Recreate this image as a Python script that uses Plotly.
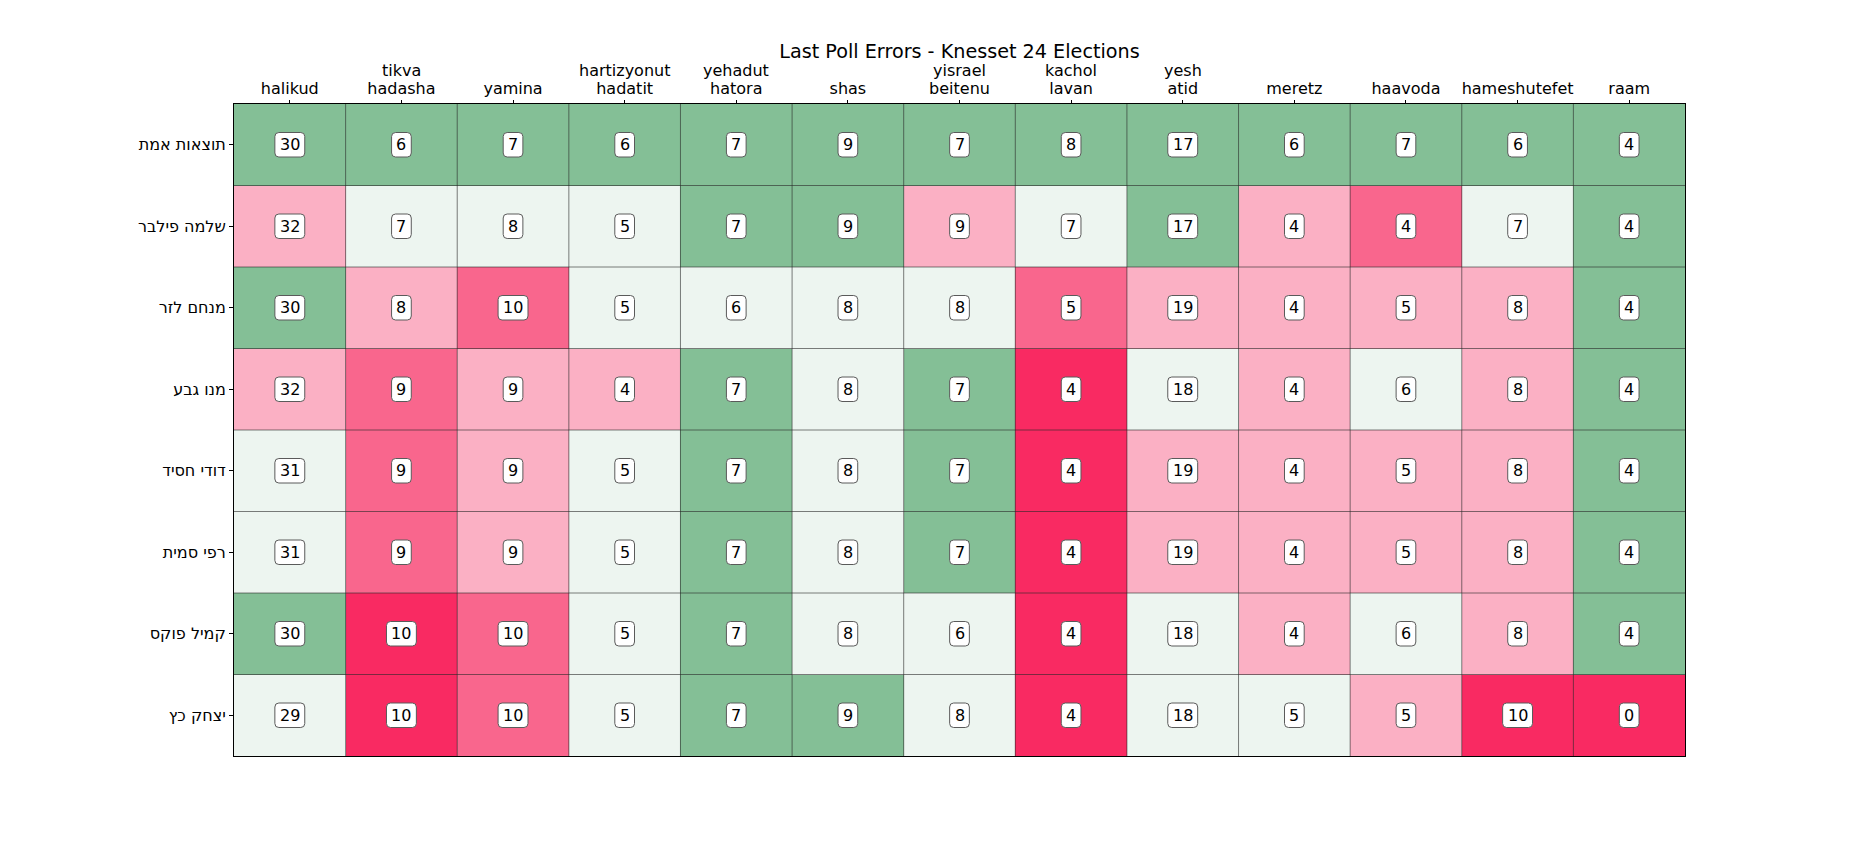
import plotly.graph_objects as go

# ---------------- data ----------------
parties = ["halikud", "tikva<br>hadasha", "yamina", "hartizyonut<br>hadatit",
           "yehadut<br>hatora", "shas", "yisrael<br>beitenu", "kachol<br>lavan",
           "yesh<br>atid", "meretz", "haavoda", "hameshutefet", "raam"]

pollsters = ["תוצאות אמת", "שלמה פילבר", "מנחם לזר", "מנו גבע",
             "דודי חסיד", "רפי סמית", "קמיל פוקס", "יצחק כץ"]

actual_results = [30, 6, 7, 6, 7, 9, 7, 8, 17, 6, 7, 6, 4]
filber = [32, 7, 8, 5, 7, 9, 9, 7, 17, 4, 4, 7, 4]
lazar = [30, 8, 10, 5, 6, 8, 8, 5, 19, 4, 5, 8, 4]
geva = [32, 9, 9, 4, 7, 8, 7, 4, 18, 4, 6, 8, 4]
hasid = [31, 9, 9, 5, 7, 8, 7, 4, 19, 4, 5, 8, 4]
smith = [31, 9, 9, 5, 7, 8, 7, 4, 19, 4, 5, 8, 4]
fuchs = [30, 10, 10, 5, 7, 8, 6, 4, 18, 4, 6, 8, 4]
katz = [29, 10, 10, 5, 7, 9, 8, 4, 18, 5, 5, 10, 0]

seats = [actual_results, filber, lazar, geva, hasid, smith, fuchs, katz]

# error classes: 0, 1, 2, 3, 4+
class_colors = ["#84BF96", "#EDF5F0", "#FBB0C4", "#F9668D", "#F92A62"]

# ---------------- derived ----------------
n_rows = len(pollsters)
n_cols = len(parties)
err = [[min(abs(v - a), 4) for v, a in zip(row, actual_results)] for row in seats]

ncls = len(class_colors)
colorscale = []
for i, c in enumerate(class_colors):
    colorscale.append([i / ncls, c])
    colorscale.append([(i + 1) / ncls, c])

FONT = "DejaVu Sans"

fig = go.Figure(go.Heatmap(
    z=err,
    x=list(range(n_cols)),
    y=list(range(n_rows)),
    colorscale=colorscale,
    zmin=-0.5, zmax=ncls - 0.5,
    showscale=False,
    hoverinfo="skip",
))

shapes = []
# cell boundary lines
for i in range(1, n_cols):
    shapes.append(dict(type="line", xref="x", yref="y", x0=i - 0.5, x1=i - 0.5,
                       y0=-0.5, y1=n_rows - 0.5, layer="above",
                       line=dict(color="rgba(40,40,40,0.6)", width=1)))
for j in range(1, n_rows):
    shapes.append(dict(type="line", xref="x", yref="y", y0=j - 0.5, y1=j - 0.5,
                       x0=-0.5, x1=n_cols - 0.5, layer="above",
                       line=dict(color="rgba(40,40,40,0.6)", width=1)))


def rounded_rect(w, h, r):
    a, b = w / 2, h / 2
    return (f"M {-a + r},{-b} L {a - r},{-b} Q {a},{-b} {a},{-b + r} "
            f"L {a},{b - r} Q {a},{b} {a - r},{b} L {-a + r},{b} "
            f"Q {-a},{b} {-a},{b - r} L {-a},{-b + r} Q {-a},{-b} {-a + r},{-b} Z")


annotations = []
for j, row in enumerate(seats):
    for i, v in enumerate(row):
        nd = len(str(v))
        shapes.append(dict(type="path", xref="x", yref="y",
                           xsizemode="pixel", ysizemode="pixel",
                           xanchor=i, yanchor=j,
                           path=rounded_rect(9.5 + 10.2 * nd, 24.5, 4),
                           fillcolor="white", layer="above",
                           line=dict(color="#5a5a5a", width=1)))
        annotations.append(dict(x=i, y=j, xref="x", yref="y", text=str(v),
                                showarrow=False,
                                font=dict(family=FONT, size=16, color="black")))

# x tick labels: last line as tick text, upper line set tighter (matplotlib spacing)
tick_bottom = [p.split("<br>")[-1] for p in parties]
for i, p in enumerate(parties):
    lines = p.split("<br>")
    if len(lines) > 1:
        annotations.append(dict(x=i, y=1, xref="x", yref="paper", text=lines[0],
                                showarrow=False, yanchor="middle", yshift=34,
                                font=dict(family=FONT, size=16, color="black")))

fig.update_layout(
    width=1872, height=864,
    margin=dict(l=226, r=195, t=96, b=116),
    paper_bgcolor="white", plot_bgcolor="white",
    font=dict(family=FONT, size=16, color="black"),
    title=dict(text="Last Poll Errors - Knesset 24 Elections",
               x=0.5, xref="paper", xanchor="center",
               y=1 - 43 / 864, yref="container", yanchor="middle",
               font=dict(family=FONT, size=19.2, color="black")),
    shapes=shapes,
    annotations=annotations,
)

fig.update_xaxes(
    side="top", range=[-0.5, n_cols - 0.5],
    tickmode="array", tickvals=list(range(n_cols)), ticktext=tick_bottom,
    ticks="outside", ticklen=3, tickcolor="black", tickwidth=1,
    showgrid=False, zeroline=False,
    showline=True, mirror=True, linecolor="black", linewidth=1,
    tickfont=dict(family=FONT, size=16, color="black"),
)
fig.update_yaxes(
    range=[n_rows - 0.5, -0.5],
    tickmode="array", tickvals=list(range(n_rows)), ticktext=pollsters,
    ticks="outside", ticklen=4, tickcolor="black", tickwidth=1,
    showgrid=False, zeroline=False,
    showline=True, mirror=True, linecolor="black", linewidth=1,
    tickfont=dict(family=FONT, size=16, color="black"),
)

fig.write_html("out.html")
